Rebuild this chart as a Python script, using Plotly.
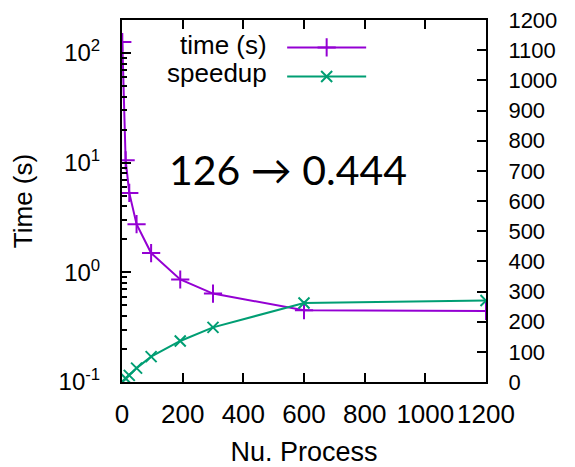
import plotly.graph_objects as go

processes = [1, 12, 24, 48, 96, 192, 300, 600, 1200]
time_s = [126, 10.5, 5.3, 2.75, 1.5, 0.86, 0.64, 0.452, 0.444]
speedup = [1, 12, 22, 46, 84, 136, 181, 262, 270]
series_names = ["time (s)", "speedup"]

x_ticks = [0, 200, 400, 600, 800, 1000, 1200]
y_ticks = [0.1, 1, 10, 100]
y_ticktext = ["10<sup>-1</sup>", "10<sup>0</sup>", "10<sup>1</sup>", "10<sup>2</sup>"]
y_minor = [m * d for d in (0.1, 1, 10) for m in range(2, 10)] + [200]
y2_ticks = list(range(0, 1201, 100))

PURPLE = "#9400D3"
GREEN = "#009E73"
FONT = "Liberation Sans, Arial, sans-serif"

time_style = dict(line=dict(color=PURPLE, width=2),
                  marker=dict(symbol="cross-thin", size=13, line=dict(color=PURPLE, width=2)))
speed_style = dict(line=dict(color=GREEN, width=2),
                   marker=dict(symbol="x-thin", size=11, line=dict(color=GREEN, width=2)))

fig = go.Figure()
fig.add_trace(go.Scatter(x=processes, y=time_s, name=series_names[0], mode="lines+markers",
                         yaxis="y", showlegend=False, **time_style))
fig.add_trace(go.Scatter(x=processes, y=speedup, name=series_names[1], mode="lines+markers",
                         yaxis="y2", showlegend=False, **speed_style))
# legend keys (text drawn as right-aligned labels, gnuplot style)
fig.add_trace(go.Scatter(x=[None], y=[None], name=" ", mode="lines+markers",
                         yaxis="y", showlegend=True, **time_style))
fig.add_trace(go.Scatter(x=[None], y=[None], name=" ", mode="lines+markers",
                         yaxis="y2", showlegend=True, **speed_style))

# page body has an 8px default margin, so the figure is sized to fit the window
fig.update_layout(
    width=567, height=459,
    margin=dict(l=114, r=89, t=12, b=85, autoexpand=False),
    paper_bgcolor="white", plot_bgcolor="white",
    font=dict(family=FONT, size=24, color="black"),
    showlegend=True,
    legend=dict(x=0.44, y=0.978, xanchor="left", yanchor="top",
                bgcolor="rgba(0,0,0,0)", font=dict(size=20),
                tracegroupgap=0, itemwidth=79),
    xaxis=dict(
        range=[0, 1200], tickvals=x_ticks, tickangle=0, automargin=False,
        tickfont=dict(size=26), ticklabelstandoff=8,
        showline=True, linecolor="black", linewidth=2, mirror="ticks",
        ticks="inside", ticklen=9, tickwidth=1.5, tickcolor="black",
        showgrid=False, zeroline=False,
        title=dict(text="Nu. Process", standoff=15, font=dict(size=27)),
    ),
    yaxis=dict(
        type="log", range=[-1, 2.301], automargin=False,
        tickvals=y_ticks, ticktext=y_ticktext, tickfont=dict(size=24),
        ticklabelstandoff=15,
        showline=True, linecolor="black", linewidth=2, mirror=False,
        ticks="inside", ticklen=9, tickwidth=1.5, tickcolor="black",
        minor=dict(tickvals=y_minor, ticks="inside", ticklen=5, tickwidth=1.5,
                   tickcolor="black", showgrid=False),
        showgrid=False, zeroline=False,
        title=dict(text="Time (s)", standoff=25, font=dict(size=26)),
    ),
    yaxis2=dict(
        overlaying="y", side="right", range=[0, 1200], tickvals=y2_ticks,
        automargin=False, tickfont=dict(size=22), ticklabelstandoff=16,
        ticklabeloverflow="allow",
        showline=True, linecolor="black", linewidth=2,
        ticks="inside", ticklen=9, tickwidth=1.5, tickcolor="black",
        showgrid=False, zeroline=False,
    ),
    annotations=[
        dict(text=series_names[0], xref="paper", yref="paper", x=0.405, y=0.93,
             xanchor="right", yanchor="middle", showarrow=False, font=dict(size=26)),
        dict(text=series_names[1], xref="paper", yref="paper", x=0.405, y=0.853,
             xanchor="right", yanchor="middle", showarrow=False, font=dict(size=26)),
        dict(text="126 → 0.444", xref="paper", yref="paper", x=0.457, y=0.588,
             showarrow=False, font=dict(family="Lato, Open Sans, sans-serif", size=41, color="black")),
    ],
)

fig.write_html("out.html")
